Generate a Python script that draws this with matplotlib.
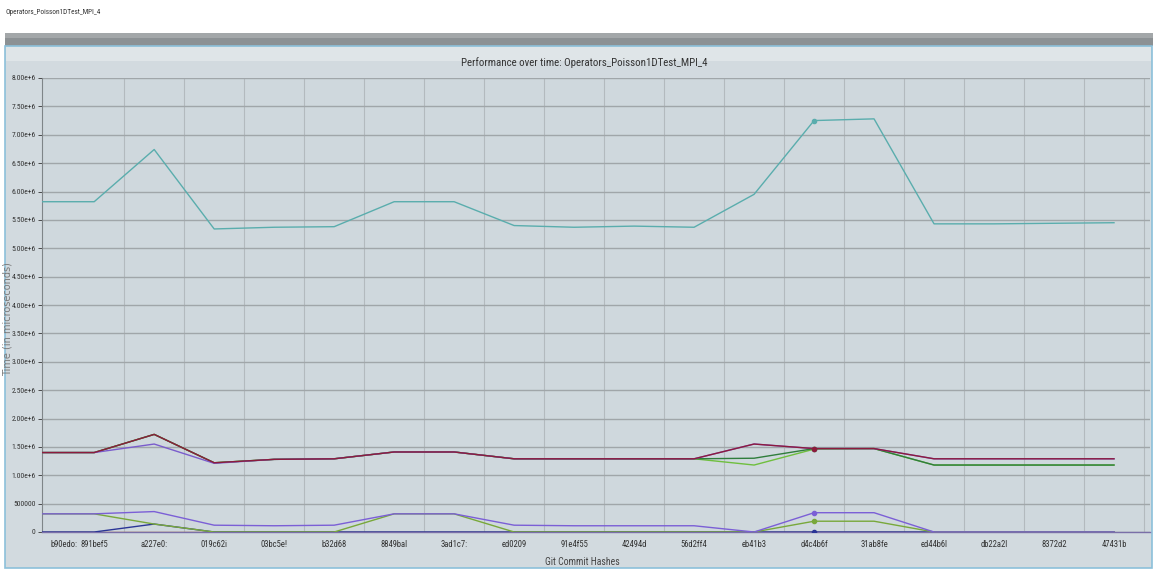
import numpy as np
import matplotlib
matplotlib.use("Agg")
import matplotlib.pyplot as plt
from matplotlib import font_manager
from matplotlib.patches import Rectangle
from matplotlib.ticker import MultipleLocator, FuncFormatter

# MARK:- data
hashes = ["b90edo:", "891bef5", "a227e0:", "019c62i", "03bc5e!", "b32d68", "8849bal",
          "3ad1c7:", "ed0209", "91e4f55", "42494d", "56d2ff4", "eb41b3", "d4c4b6f",
          "31ab8fe", "ed44b6l", "db22a2l", "8372d2", "47431b"]

teal = [5.82e6, 5.82e6, 6.74e6, 5.34e6, 5.37e6, 5.38e6, 5.82e6, 5.82e6, 5.40e6, 5.37e6,
        5.39e6, 5.37e6, 5.95e6, 7.25e6, 7.28e6, 5.43e6, 5.43e6, 5.44e6, 5.45e6]
red = [1.40e6, 1.40e6, 1.72e6, 1.22e6, 1.28e6, 1.29e6, 1.41e6, 1.41e6, 1.29e6, 1.29e6,
       1.29e6, 1.29e6, 1.55e6, 1.47e6, 1.47e6, 1.29e6, 1.29e6, 1.29e6, 1.29e6]
purple_hi = [1.40e6, 1.40e6, 1.55e6, 1.21e6, 1.28e6, 1.29e6, 1.41e6, 1.41e6, 1.29e6, 1.29e6,
             1.29e6, 1.29e6, 1.55e6, 1.47e6, 1.47e6, 1.29e6, 1.29e6, 1.29e6, 1.29e6]
green_dark = [1.40e6, 1.40e6, 1.72e6, 1.22e6, 1.28e6, 1.29e6, 1.41e6, 1.41e6, 1.29e6, 1.29e6,
              1.29e6, 1.29e6, 1.30e6, 1.47e6, 1.47e6, 1.18e6, 1.18e6, 1.18e6, 1.18e6]
green_light = [1.40e6, 1.40e6, 1.72e6, 1.22e6, 1.28e6, 1.29e6, 1.41e6, 1.41e6, 1.29e6, 1.29e6,
               1.29e6, 1.29e6, 1.18e6, 1.46e6, 1.47e6, 1.18e6, 1.18e6, 1.18e6, 1.18e6]
purple_lo = [0.32e6, 0.32e6, 0.36e6, 0.12e6, 0.11e6, 0.12e6, 0.32e6, 0.32e6, 0.12e6, 0.11e6,
             0.11e6, 0.11e6, 0.0, 0.34e6, 0.34e6, 0.0, 0.0, 0.0, 0.0]
olive = [0.32e6, 0.32e6, 0.14e6, 0.0, 0.0, 0.0, 0.32e6, 0.32e6, 0.0, 0.0,
         0.0, 0.0, 0.0, 0.19e6, 0.19e6, 0.0, 0.0, 0.0, 0.0]
blue = [0.0, 0.0, 0.14e6, 0.0, 0.0, 0.0, 0.0, 0.0, 0.0, 0.0,
        0.0, 0.0, 0.0, 0.0, 0.0, 0.0, 0.0, 0.0, 0.0]
brown = [0.0] * 19

x = np.arange(len(hashes))

# MARK:- pick a narrow font if one is installed
installed = {f.name for f in font_manager.fontManager.ttflist}
narrow_font = "Lato"
for cand in ["Liberation Sans Narrow", "Roboto Condensed", "Open Sans Condensed",
             "DejaVu Sans Condensed", "Noto Sans Display"]:
    if cand in installed:
        narrow_font = cand
        break
narrow = [narrow_font, "DejaVu Sans"]

# MARK:- figure frame
fig = plt.figure(figsize=(11.53, 5.72), dpi=100)
fig.patch.set_facecolor("white")

def box(x0, y0, w, h, **kw):
    # pixel box (top-left origin) -> figure fraction, kept behind the axes
    fig.patches.append(Rectangle((x0 / 1153, 1 - (y0 + h) / 572), w / 1153, h / 572,
                                 transform=fig.transFigure, zorder=-10, **kw))

box(5, 33, 1148, 6, facecolor="#a3a7a9", edgecolor="none")
box(5, 38, 1148, 8, facecolor="#8c9194", edgecolor="none")
box(5, 46, 1147, 522, facecolor="#d2dadf", edgecolor="#8cc0da", linewidth=1.2)
box(6, 47, 1145, 14, facecolor="#dfe5e8", edgecolor="none")

fig.text(5 / 1153, 1 - 12 / 572, "Operators_Poisson1DTest_MPI_4", fontsize=5.2,
         family=narrow, color="#333333", va="center", ha="left")

# MARK:- axes
ax = fig.add_axes([42 / 1153, 40 / 572, 1108 / 1153, 454 / 572])
ax.set_facecolor("#cfd8dd")

series = [
    (brown, "#c0785a", False),
    (blue, "#2a3596", True),
    (olive, "#78a83a", True),
    (purple_lo, "#7b5fd6", True),
    (green_light, "#6fbf3e", False),
    (green_dark, "#2f7d3c", True),
    (purple_hi, "#7a5ccc", False),
    (red, "#8d1b3d", True),
    (teal, "#5aadad", True),
]
for ys, col, mark in series:
    ax.plot(x, ys, color=col, lw=1.0, zorder=3)
    if mark:
        ax.plot(x[13], ys[13], "o", color=col, ms=3, zorder=4)

ax.set_xlim(0.13, 18.6)
ax.set_ylim(0, 8e6)

ax.yaxis.set_major_locator(MultipleLocator(500000))
ax.yaxis.set_major_formatter(FuncFormatter(
    lambda v, p: "0" if v == 0 else ("500000" if v < 1e6 else "%.2fe+6" % (v / 1e6))))

tick_pos = np.maximum(x, 0.5)
ax.set_xticks(tick_pos)
ax.set_xticklabels(hashes)
ax.xaxis.set_minor_locator(MultipleLocator(0.5))

ax.grid(True, which="major", axis="y", color="#a0a6a9", lw=1.0, zorder=1)
ax.grid(True, which="minor", axis="x", color="#b3babe", lw=0.8, zorder=1)

ax.tick_params(axis="x", which="both", length=0, pad=6, labelsize=6.2, colors="#333333")
ax.tick_params(axis="y", length=3, width=0.6, pad=1.5, labelsize=5.5, colors="#333333")
for lab in ax.get_xticklabels() + ax.get_yticklabels():
    lab.set_family(narrow)

for s in ["top", "right"]:
    ax.spines[s].set_visible(False)
ax.spines["left"].set_color("#7f8588")
ax.spines["left"].set_linewidth(0.8)
ax.spines["bottom"].set_color("#7a6fa8")
ax.spines["bottom"].set_linewidth(1.0)

ax.set_title("Performance over time: Operators_Poisson1DTest_MPI_4", fontsize=7.8,
             family=narrow, color="#333333", pad=9, x=0.489)
ax.set_xlabel("Git Commit Hashes", fontsize=7, family=narrow, color="#444444")
ax.xaxis.set_label_coords(0.488, -0.055)
ax.set_ylabel("Time (in microseconds)", fontsize=7, color="#7a7a7a")
ax.yaxis.set_label_coords(-0.0265, 0.47)

fig.savefig("out.png", dpi=100)
